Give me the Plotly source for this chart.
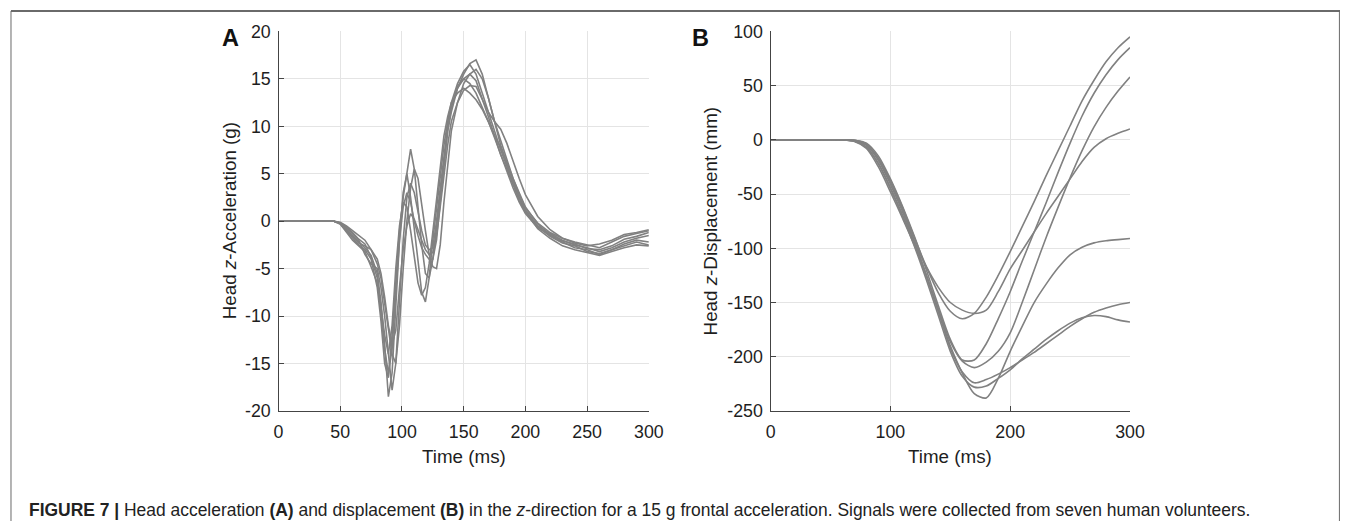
import plotly.graph_objects as go

# ---------------- Panel A data: head z-acceleration (g) ----------------
tA = [0, 10, 20, 30, 40, 45, 50, 55, 60, 65, 70, 75, 80, 83, 86, 89, 92, 95, 98, 101,
      104, 107, 110, 113, 116, 119, 122, 125, 128, 131, 134, 137, 140, 145, 150, 155, 160,
      165, 170, 175, 180, 185, 190, 195, 200, 210, 220, 230, 240, 250, 260, 270, 280, 290, 300]

accA1 = [0, 0, 0, 0, 0, 0, -0.2, -0.8, -1.5, -2.2, -2.8, -3.6, -5.5, -8.5, -13, -18.5, -16, -9, -2, 3,
         5, 2.5, -1, -4, -7.5, -8.5, -6, -2, 1.5, 5, 8, 10.5, 12.5, 14.5, 15.8, 16.5, 15.5,
         13.5, 11.5, 9.5, 7.5, 5.8, 4, 2.5, 1.2, -0.5, -1.3, -2, -2.5, -2.8, -3.2, -2.8, -2.2, -1.8, -1.5]
accA2 = [0, 0, 0, 0, 0, 0, -0.3, -1, -1.8, -2.5, -3, -4, -7, -10.5, -15, -16.5, -12, -6, -1, 2.5,
         5, 7.6, 5.5, 1.5, -2.5, -5.5, -6, -4, -0.5, 3, 6.5, 9.5, 11.5, 14, 15.5, 16.6, 17,
         15.5, 13, 10.5, 8.5, 6.5, 4.5, 3, 1.5, -0.3, -1.5, -2.2, -2.8, -3, -3.5, -3, -2.6, -2.2, -2.5]
accA3 = [0, 0, 0, 0, 0, 0, -0.2, -0.7, -1.3, -2, -3.5, -4.5, -5, -7, -10, -14, -17.8, -15, -8, -2,
         2.5, 4, 3, 1, -1, -2.5, -3, -2.8, 0, 3.5, 7, 10, 12, 14, 15, 15.5, 14.8,
         13, 11, 9, 7, 5.5, 3.8, 2.2, 1, -0.6, -1.6, -2.3, -2.6, -3.2, -3.4, -3, -2.4, -2, -2.2]
accA4 = [0, 0, 0, 0, 0, 0, -0.3, -1.1, -2, -2.6, -3.2, -4.8, -6.5, -9, -12, -14, -11, -5, -0.5, 2,
         1.5, -1, -4, -6.5, -7.8, -7, -4.5, -1, 2.5, 6, 9, 11, 12.5, 13.5, 14, 13.5, 12.8,
         11.8, 10.5, 9, 7.8, 6.2, 4.5, 2.8, 1.4, -0.2, -1.2, -1.8, -2.2, -2.5, -2.8, -2.2, -1.6, -1.3, -1.0]
accA5 = [0, 0, 0, 0, 0, 0, -0.1, -0.5, -1, -1.5, -2, -3, -4.5, -6, -8.5, -11.5, -14, -15, -11, -5,
         0, 3.5, 5.5, 4.5, 2, -1, -3.5, -4.8, -5, -2.5, 2, 6, 9.5, 12.5, 14.5, 15.5, 16,
         15, 13, 10.5, 8, 6, 4.2, 2.5, 1, -0.8, -1.8, -2.6, -3, -3.3, -3.6, -3.2, -2.8, -2.5, -2.6]
accA6 = [0, 0, 0, 0, 0, 0, -0.2, -0.9, -1.6, -2.3, -2.6, -3, -4, -5.5, -8, -11, -13, -11.5, -7, -3,
         -0.5, 0.8, 0.2, -1, -2, -3, -3.5, -3.3, -1.5, 1.5, 5, 8, 10.5, 12.5, 13.8, 14.3, 14.2,
         12.8, 11.5, 10.5, 9.7, 8.2, 6.3, 4.5, 2.8, 0.5, -0.9, -1.8, -2.3, -2.6, -2.4, -2.0, -1.4, -1.2, -0.9]
accA7 = [0, 0, 0, 0, 0, 0, -0.2, -0.6, -1.2, -1.9, -2.4, -3.8, -6, -9.5, -13.5, -16, -13.5, -7.5, -2, 1.5,
         3, 2, 0, -1.5, -2.8, -3.5, -4, -4, -2, 2, 6, 9.5, 12, 14.2, 15, 14.5, 13.5,
         12, 10.5, 8.8, 7, 5.2, 3.5, 2, 0.8, -0.7, -1.4, -2.1, -2.4, -2.9, -3, -2.6, -1.9, -1.6, -1.2]

# ---------------- Panel B data: head z-displacement (mm) ----------------
tB = [0, 20, 40, 60, 70, 80, 90, 100, 110, 120, 130, 140, 150, 160, 170, 180, 190, 200,
      210, 220, 230, 240, 250, 260, 270, 280, 290, 300]

dispB1 = [0, 0, 0, 0, -0.5, -4, -17, -37, -62, -90, -117, -141, -158, -165, -160, -145, -125, -103,
          -80, -57, -33, -10, 13, 36, 55, 72, 85, 95]
dispB2 = [0, 0, 0, 0, -1, -7, -22, -44, -69, -94, -117, -136, -150, -157, -160, -157, -140, -119,
          -102, -85, -68, -52, -36, -20, -7, 1, 6, 10]
dispB3 = [0, 0, 0, 0, -0.3, -3, -15, -36, -61, -89, -120, -153, -184, -203, -203, -188, -165, -140,
          -112, -85, -58, -30, -3, 22, 43, 60, 74, 85]
dispB4 = [0, 0, 0, 0, -1.5, -8, -25, -48, -72, -97, -125, -156, -186, -204, -210, -205, -195, -178,
          -150, -120, -90, -62, -35, -10, 12, 30, 45, 58]
dispB5 = [0, 0, 0, 0, -0.8, -5, -19, -41, -66, -94, -125, -158, -190, -215, -234, -238, -220, -195,
          -172, -150, -133, -118, -106, -99, -95, -93, -92, -91]
dispB6 = [0, 0, 0, 0, -0.5, -4, -18, -39, -64, -93, -125, -158, -192, -214, -224, -221, -216, -210,
          -203, -196, -188, -180, -172, -165, -159, -155, -152, -150]
dispB7 = [0, 0, 0, 0, -1.2, -6.5, -22, -45, -70, -98, -129, -162, -195, -218, -228, -227, -220, -212,
          -202, -193, -184, -176, -169, -164, -162, -163, -166, -168]

# ---------------- tick labels ----------------
xticksA = [0, 50, 100, 150, 200, 250, 300]
yticksA = [-20, -15, -10, -5, 0, 5, 10, 15, 20]
xticksB = [0, 100, 200, 300]
yticksB = [-250, -200, -150, -100, -50, 0, 50, 100]

accA = [accA1, accA2, accA3, accA4, accA5, accA6, accA7]
dispB = [dispB1, dispB2, dispB3, dispB4, dispB5, dispB6, dispB7]

LINE = "#818181"
AX = "#444444"
GRID = "#e4e4e4"
TXT = "#1e1e1e"
FONT = "Liberation Sans, Arial, sans-serif"

W, H = 1355, 531
# map target picture positions to figure fractions (corrects the photographed offset/scale)
SX, OX = 0.987, 3.0
SY, OY = 0.966, 9.5
def px(x):
    return ((x - OX) / SX) / W
def py(y):
    return 1 - ((y - OY) / SY) / H

fig = go.Figure()
for s in accA:
    fig.add_trace(go.Scatter(x=tA, y=s, mode="lines", line=dict(color=LINE, width=1.6),
                             xaxis="x", yaxis="y", showlegend=False, hoverinfo="skip"))
for s in dispB:
    fig.add_trace(go.Scatter(x=tB, y=s, mode="lines", line=dict(color=LINE, width=1.6, shape="spline", smoothing=0.8),
                             xaxis="x2", yaxis="y2", showlegend=False, hoverinfo="skip"))

common = dict(showline=True, linecolor=AX, linewidth=1.4, ticks="inside", ticklen=5,
              tickcolor=AX, showgrid=True, gridcolor=GRID, gridwidth=1, zeroline=False,
              tickfont=dict(family=FONT, size=17.8, color=TXT), mirror=False)

def lab(v):
    return [str(x) for x in v]

fig.update_layout(
    width=W, height=H, margin=dict(l=0, r=0, t=0, b=0),
    paper_bgcolor="white", plot_bgcolor="white", showlegend=False,
    xaxis=dict(domain=[px(277), px(648)], range=[0, 300], tickvals=xticksA, ticktext=lab(xticksA),
               anchor="y", ticklabelstandoff=4, **common),
    yaxis=dict(domain=[py(412), py(31)], range=[-20, 20], tickvals=yticksA, ticktext=lab(yticksA),
               anchor="x", ticklabelstandoff=3, **common),
    xaxis2=dict(domain=[px(770), px(1130)], range=[0, 300], tickvals=xticksB, ticktext=lab(xticksB),
                anchor="y2", ticklabelstandoff=4, **common),
    yaxis2=dict(domain=[py(412), py(31)], range=[-250, 100], tickvals=yticksB, ticktext=lab(yticksB),
                anchor="x2", ticklabelstandoff=3, **common),
)

ann = [
    dict(text="Time (ms)", x=px(462.5), y=py(458), xanchor="center", yanchor="middle",
         font=dict(family=FONT, size=18.8, color=TXT)),
    dict(text="Time (ms)", x=px(950), y=py(458), xanchor="center", yanchor="middle",
         font=dict(family=FONT, size=18.8, color=TXT)),
    dict(text="Head <i>z</i>-Acceleration (g)", x=px(228), y=py(221), textangle=-90,
         xanchor="center", yanchor="middle", font=dict(family=FONT, size=18.8, color=TXT)),
    dict(text="Head <i>z</i>-Displacement (mm)", x=px(710), y=py(221), textangle=-90,
         xanchor="center", yanchor="middle", font=dict(family=FONT, size=18.8, color=TXT)),
    dict(text="<b>A</b>", x=px(229), y=py(38), xanchor="center", yanchor="middle",
         font=dict(family=FONT, size=23.5, color="#111")),
    dict(text="<b>B</b>", x=px(700), y=py(38), xanchor="center", yanchor="middle",
         font=dict(family=FONT, size=23.5, color="#111")),
    dict(text="<b>FIGURE 7 |</b> Head acceleration <b>(A)</b> and displacement <b>(B)</b> in the "
              "<i>z</i>-direction for a 15 g frontal acceleration. Signals were collected from seven human volunteers.",
         x=px(25), y=py(511), xanchor="left", yanchor="middle",
         font=dict(family=FONT, size=17.45, color="#222")),
]
for a in ann:
    a.update(xref="paper", yref="paper", showarrow=False)
fig.update_layout(annotations=ann)

ytop = 1 - 1.0 / H
shapes = [
    dict(type="line", x0=px(9), x1=1, y0=ytop, y1=ytop, line=dict(color="#6a6a6a", width=2)),
    dict(type="line", x0=px(9), x1=px(9), y0=ytop, y1=0, line=dict(color="#6a6a6a", width=1)),
    dict(type="line", x0=1 - 0.6 / W, x1=1 - 0.6 / W, y0=ytop, y1=0, line=dict(color="#6a6a6a", width=1)),
]
for s in shapes:
    s.update(xref="paper", yref="paper")
fig.update_layout(shapes=shapes)

fig.write_html("out.html")
